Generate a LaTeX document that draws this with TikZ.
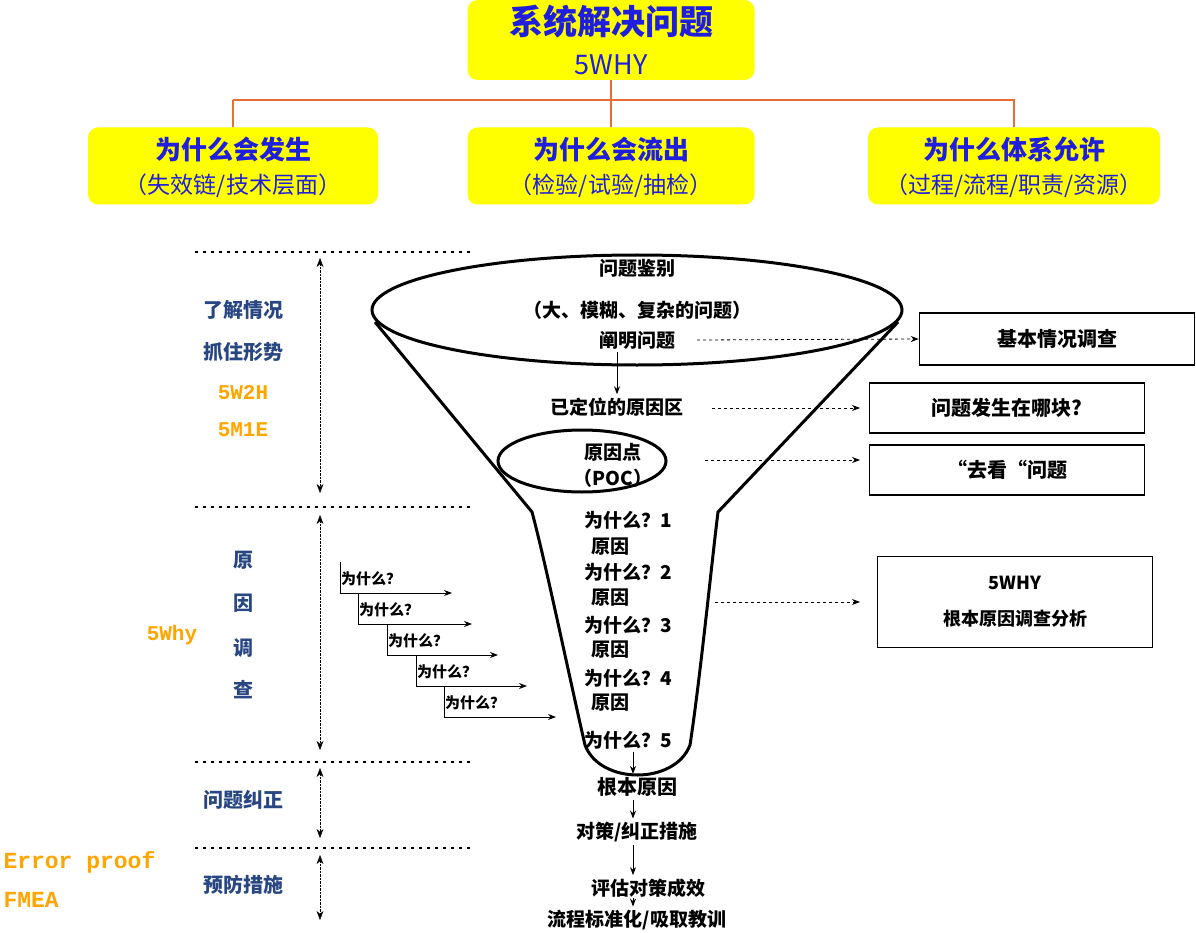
\documentclass[tikz,border=0pt]{standalone}
\usepackage{fontspec}
\setmainfont{Noto Sans CJK SC}
\setmonofont{Liberation Mono}
\usetikzlibrary{arrows.meta}
\definecolor{ybox}{RGB}{255,255,0}
\definecolor{bluet}{RGB}{30,30,220}
\definecolor{navy}{RGB}{40,70,130}
\definecolor{orangeT}{RGB}{255,165,0}
\definecolor{orl}{RGB}{230,110,50}
\tikzset{
 ybx/.style={draw=none,fill=ybox,rounded corners=10pt},
 ytxt/.style={text=bluet,font=\fontsize{26}{28}\selectfont\bfseries},
 ysub/.style={text=bluet,font=\fontsize{23}{25}\selectfont},
 lt/.style={text=navy,font=\fontsize{20}{22}\selectfont\bfseries},
 ot/.style={text=orangeT,font=\ttfamily\fontsize{21}{23}\selectfont\bfseries},
 ft/.style={font=\fontsize{19}{21}\selectfont\bfseries},
 dotl/.style={line width=2.5pt,dash pattern=on 3pt off 5pt},
 varr/.style={densely dotted,{Stealth[length=9pt]}-{Stealth[length=9pt]}},
 wbox/.style={draw,line width=1.5pt,fill=white,font=\fontsize{20}{22}\selectfont\bfseries},
 darr/.style={dashed,line width=0.8pt,-{Stealth[length=8pt]}},
 sarr/.style={-{Stealth[length=8pt]},line width=0.9pt},
}
\begin{document}
\begin{tikzpicture}[x=1pt,y=-1pt]
\useasboundingbox (0,0) rectangle (1196,933);
% top boxes
\node[ybx,minimum width=287,minimum height=80] (top) at (611,40) {};
\node[text=bluet,font=\fontsize{34}{36}\selectfont\bfseries] (tt1) at (611,22) {系统解决问题};
\node[text=bluet,font=\fontsize{27}{29}\selectfont] (tt2) at (611,65) {5WHY};
\node[ybx,minimum width=290,minimum height=77] (b1) at (233,166) {};
\node[ybx,minimum width=287,minimum height=77] (b2) at (611,166) {};
\node[ybx,minimum width=292,minimum height=77] (b3) at (1014,166) {};
\node[ytxt] at (233,150) {为什么会发生};
\node[ysub] at (233,186) {（失效链/技术层面）};
\node[ytxt] at (611,150) {为什么会流出};
\node[ysub] at (611,186) {（检验/试验/抽检）};
\node[ytxt] at (1014,150) {为什么体系允许};
\node[ysub] at (1014,186) {（过程/流程/职责/资源）};
\draw[orl,line width=2.5pt] (top.south) -- (611,100) (233,100) -- (1015,100) (b1.north) |- (233,100) (b3.north) |- (1015,100) (b2.north) -- (611,100);
% dotted separators
\foreach \y in {252,507,762,848} \draw[dotl] (195,\y) -- (470,\y);
\draw[varr] (320,258) -- (320,493);
\draw[varr] (320,515) -- (320,750);
\draw[varr] (320,768) -- (320,838);
\draw[varr] (320,855) -- (320,920);
% left labels
\node[lt] at (243,310) {了解情况};
\node[lt] at (243,352) {抓住形势};
\node[ot] at (243,393) {5W2H};
\node[ot] at (243,430) {5M1E};
\node[lt] at (243,560) {原};
\node[lt] at (243,603) {因};
\node[lt] at (243,648) {调};
\node[lt] at (243,690) {查};
\node[ot] at (172,635) {5Why};
\node[lt] at (243,800) {问题纠正};
\node[lt] at (243,885) {预防措施};
\node[ot,anchor=west,font=\ttfamily\fontsize{23}{25}\selectfont\bfseries] at (0,862) {Error proof};
\node[ot,anchor=west,font=\ttfamily\fontsize{23}{25}\selectfont\bfseries] at (0,900) {FMEA};
% funnel
\draw[line width=3pt] (375,322) -- (532,512) .. controls (545,560) and (570,680) .. (585,745)
  .. controls (600,785) and (675,785) .. (690,745) .. controls (700,680) and (712,560) .. (718,512) -- (898,322);
\draw[line width=3pt,fill=white] (637,310) ellipse [x radius=265, y radius=55];
\draw[line width=3pt] (582,461) ellipse [x radius=84, y radius=31];
\node[ft] (f1) at (637,268) {问题鉴别};
\node[ft] (f2) at (637,310) {（大、模糊、复杂的问题）};
\node[ft] (f3) at (637,340) {阐明问题};
\node[ft] (f4) at (617,407) {已定位的原因区};
\node[ft] (f5) at (613,452) {原因点};
\node[ft] (f6) at (613,478) {（POC）};
\foreach \n/\y in {1/520,2/572,3/625,4/678,5/740} \node[ft] (w\n) at (628,\y) {为什么？\n};
\foreach \n/\y in {1/547,2/598,3/650,4/703} \node[ft] (r\n) at (610,\y) {原因};
\node[ft,font=\fontsize{20}{22}\selectfont\bfseries] (g1) at (637,787) {根本原因};
\node[ft] (g2) at (637,832) {对策/纠正措施};
\node[ft] (g3) at (648,888) {评估对策成效};
\node[ft] (g4) at (637,920) {流程标准化/吸取教训};
\draw[sarr] (617,352) -- (f4.north -| 617,0);
\draw[sarr] (633,752) -- (g1.north -| 633,0);
\draw[sarr] (633,800) -- (g2.north -| 633,0);
\draw[sarr] (633,845) -- (g3.north -| 633,0);
\draw[sarr] (633,898) -- (g4.north -| 633,0);
% right boxes
\node[wbox,minimum width=275,minimum height=52] (k1) at (1057,339) {基本情况调查};
\node[wbox,minimum width=275,minimum height=50] (k2) at (1007,408) {问题发生在哪块?};
\node[wbox,minimum width=275,minimum height=50] (k3) at (1007,470) {“去看“问题};
\node[wbox,minimum width=275,minimum height=91,align=center,font=\fontsize{18}{36}\selectfont\bfseries] (k4) at (1015,602) {5WHY\\根本原因调查分析};
\coordinate (d1) at (697,340); \coordinate (d2) at (712,408); \coordinate (d3) at (705,460); \coordinate (d4) at (715,602);
\draw[darr] (d1) -- (k1.west);
\draw[darr] (d2) -- (860,408);
\draw[darr] (d3) -- (860,460);
\draw[darr] (d4) -- (860,602);
% staircase
\foreach \x/\y/\e in {340/562/452,358/593/472,387/624/498,416/655/527,444/686/556}{
  \draw[sarr,line width=0.8pt] (\x,\y) -- (\x,\y+31) -- (\e,\y+31);
  \node[font=\fontsize{15}{17}\selectfont\bfseries,anchor=west,inner sep=1pt] at (\x,\y+17) {为什么？};
}
\end{tikzpicture}
\end{document}
